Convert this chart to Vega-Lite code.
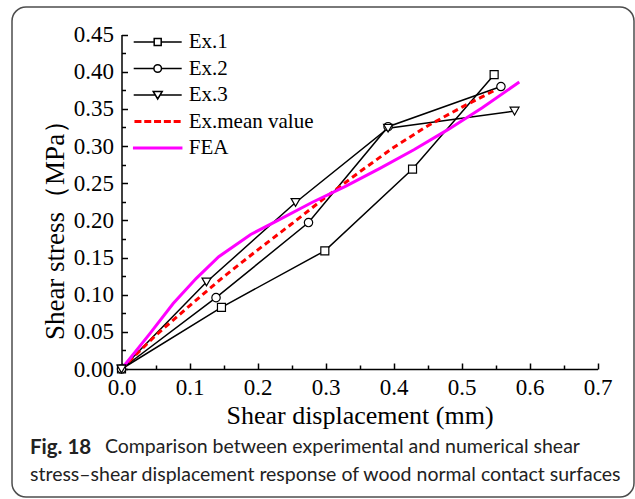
{
  "$schema": "https://vega.github.io/schema/vega-lite/v6.json",
  "width": 622,
  "height": 490,
  "autosize": "none",
  "padding": {"left": 12, "top": 7, "right": 1, "bottom": 2},
  "background": "white",
  "config": {
    "view": {"stroke": "#4d4d4d", "strokeWidth": 1.5, "cornerRadius": 14},
    "axis": {
      "labelFont": "Liberation Serif",
      "titleFont": "Liberation Serif",
      "labelFontSize": 23,
      "titleFontSize": 26,
      "titleFontWeight": "normal",
      "labelColor": "black",
      "titleColor": "black",
      "domainColor": "black",
      "tickColor": "black",
      "domainWidth": 1.5,
      "tickWidth": 1.5,
      "grid": false
    },
    "legend": {
      "labelFont": "Liberation Serif",
      "labelFontSize": 21,
      "labelColor": "black",
      "orient": "none",
      "legendX": 134.7,
      "legendY": 24,
      "padding": 0,
      "symbolSize": 400,
      "symbolStrokeWidth": 1.5,
      "symbolOpacity": 1,
      "labelOffset": 20,
      "rowPadding": 5.5
    }
  },
  "title": {
    "text": "Fig. 18",
    "subtitle": ["\u200b\u00a0\u00a0\u00a0\u00a0\u00a0\u00a0\u00a0\u00a0\u00a0\u00a0\u00a0\u00a0\u00a0\u00a0\u00a0Comparison between experimental and numerical shear", "stress\u2013shear displacement response of wood normal contact surfaces"],
    "orient": "bottom",
    "anchor": "start",
    "frame": "group",
    "offset": -59,
    "dx": 18,
    "font": "Lato",
    "fontSize": 20.5,
    "fontWeight": "bold",
    "color": "#222222",
    "subtitleFont": "Lato",
    "subtitleFontSize": 19.5,
    "subtitleColor": "#222222",
    "subtitleFontWeight": "normal",
    "subtitlePadding": -20.5,
    "subtitleLineHeight": 27.5
  },
  "datasets": {
    "experiments": [
      {"series": "Ex.1", "displacement": 0, "stress": 0},
      {"series": "Ex.1", "displacement": 0.147, "stress": 0.083},
      {"series": "Ex.1", "displacement": 0.299, "stress": 0.159},
      {"series": "Ex.1", "displacement": 0.428, "stress": 0.269},
      {"series": "Ex.1", "displacement": 0.548, "stress": 0.396},
      {"series": "Ex.2", "displacement": 0, "stress": 0},
      {"series": "Ex.2", "displacement": 0.139, "stress": 0.096},
      {"series": "Ex.2", "displacement": 0.275, "stress": 0.197},
      {"series": "Ex.2", "displacement": 0.392, "stress": 0.326},
      {"series": "Ex.2", "displacement": 0.558, "stress": 0.380},
      {"series": "Ex.3", "displacement": 0, "stress": 0},
      {"series": "Ex.3", "displacement": 0.125, "stress": 0.117},
      {"series": "Ex.3", "displacement": 0.256, "stress": 0.224},
      {"series": "Ex.3", "displacement": 0.392, "stress": 0.324},
      {"series": "Ex.3", "displacement": 0.578, "stress": 0.347}
    ],
    "mean": [
      {"displacement": 0, "stress": 0},
      {"displacement": 0.05, "stress": 0.045},
      {"displacement": 0.1, "stress": 0.085},
      {"displacement": 0.15, "stress": 0.124},
      {"displacement": 0.2, "stress": 0.16},
      {"displacement": 0.25, "stress": 0.195},
      {"displacement": 0.3, "stress": 0.231},
      {"displacement": 0.35, "stress": 0.265},
      {"displacement": 0.4, "stress": 0.298},
      {"displacement": 0.45, "stress": 0.327},
      {"displacement": 0.5, "stress": 0.352},
      {"displacement": 0.549, "stress": 0.375}
    ],
    "fea": [
      {"displacement": 0, "stress": 0},
      {"displacement": 0.042, "stress": 0.048},
      {"displacement": 0.076, "stress": 0.088},
      {"displacement": 0.11, "stress": 0.122},
      {"displacement": 0.143, "stress": 0.151},
      {"displacement": 0.19, "stress": 0.181},
      {"displacement": 0.23, "stress": 0.2},
      {"displacement": 0.28, "stress": 0.224},
      {"displacement": 0.33, "stress": 0.246},
      {"displacement": 0.38, "stress": 0.27},
      {"displacement": 0.43, "stress": 0.295},
      {"displacement": 0.48, "stress": 0.322},
      {"displacement": 0.53, "stress": 0.351},
      {"displacement": 0.585, "stress": 0.386}
    ],
    "legendItems": [
      {"item": "Ex.1"},
      {"item": "Ex.2"},
      {"item": "Ex.3"},
      {"item": "Ex.mean value"},
      {"item": "FEA"}
    ]
  },
  "encoding": {
    "x": {
      "field": "displacement",
      "type": "quantitative",
      "scale": {"domain": [0, 0.7], "range": [109.5, 585.5], "nice": false, "zero": false},
      "axis": {
        "title": "Shear displacement (mm)",
        "offset": -128,
        "values": [0, 0.05, 0.1, 0.15, 0.2, 0.25, 0.3, 0.35, 0.4, 0.45, 0.5, 0.55, 0.6, 0.65, 0.7],
        "labelExpr": "round(datum.value * 100) % 10 == 0 ? format(datum.value, '.1f') : ''",
        "tickSize": {"condition": {"test": "round(datum.value * 100) % 10 != 0", "value": -4}, "value": -6},
        "labelPadding": 13,
        "titlePadding": 1,
        "labelFlush": false,
        "labelOverlap": false
      }
    },
    "y": {
      "field": "stress",
      "type": "quantitative",
      "scale": {"domain": [0, 0.45], "range": [362, 27.5], "nice": false, "zero": false},
      "axis": {
        "title": "Shear stress\uff08MPa\uff09",
        "titleY": 216,
        "titleFontSize": 27,
        "offset": -109.5,
        "values": [0, 0.025, 0.05, 0.075, 0.1, 0.125, 0.15, 0.175, 0.2, 0.225, 0.25, 0.275, 0.3, 0.325, 0.35, 0.375, 0.4, 0.425, 0.45],
        "labelExpr": "round(datum.value * 1000) % 50 == 0 ? format(datum.value, '.2f') : ''",
        "tickSize": {"condition": {"test": "round(datum.value * 1000) % 50 != 0", "value": -4}, "value": -6},
        "labelPadding": 14,
        "titlePadding": 4,
        "labelFlush": false,
        "labelOverlap": false
      }
    }
  },
  "layer": [
    {
      "data": {"name": "experiments"},
      "mark": {"type": "line", "color": "black", "strokeWidth": 1.5},
      "encoding": {"detail": {"field": "series", "type": "nominal"}}
    },
    {
      "data": {"name": "mean"},
      "mark": {"type": "line", "color": "#ff0000", "strokeWidth": 3, "strokeDash": [6, 4]}
    },
    {
      "data": {"name": "fea"},
      "mark": {"type": "line", "color": "#ff00ff", "strokeWidth": 3}
    },
    {
      "data": {"name": "experiments"},
      "transform": [{"filter": "datum.series == 'Ex.1'"}],
      "mark": {"type": "point", "shape": "square", "filled": true, "fill": "white", "stroke": "black", "strokeWidth": 1.2, "size": 64, "opacity": 1}
    },
    {
      "data": {"name": "experiments"},
      "transform": [{"filter": "datum.series == 'Ex.2'"}],
      "mark": {"type": "point", "shape": "circle", "filled": true, "fill": "white", "stroke": "black", "strokeWidth": 1.2, "size": 70, "opacity": 1}
    },
    {
      "data": {"name": "experiments"},
      "transform": [{"filter": "datum.series == 'Ex.3'"}],
      "mark": {"type": "point", "shape": "triangle-down", "filled": true, "fill": "white", "stroke": "black", "strokeWidth": 1.2, "size": 80, "opacity": 1}
    },
    {
      "data": {"name": "legendItems"},
      "mark": {"type": "point", "opacity": 0, "strokeWidth": 1.5},
      "encoding": {
        "x": {"datum": 0.3, "type": "quantitative"},
        "y": {"datum": 0.2, "type": "quantitative"},
        "shape": {
          "field": "item",
          "type": "nominal",
          "title": null,
          "scale": {
            "domain": ["Ex.1", "Ex.2", "Ex.3", "Ex.mean value", "FEA"],
            "range": [
              "M-2.4,0H-0.35M0.35,0H2.4M-0.35,-0.35H0.35V0.35H-0.35Z",
              "M-2.4,0H-0.38M0.38,0H2.4M-0.38,0A0.38,0.38 0 1,0 0.38,0A0.38,0.38 0 1,0 -0.38,0Z",
              "M-2.4,0H-0.24M0.24,0H2.4M-0.45,-0.35L0.45,-0.35L0,0.4Z",
              "M-2.25,-0.075H-1.7V0.075H-2.25ZM-1.27,-0.075H-0.72V0.075H-1.27ZM-0.29,-0.075H0.26V0.075H-0.29ZM0.69,-0.075H1.24V0.075H0.69ZM1.67,-0.075H2.22V0.075H1.67Z",
              "M-2.4,-0.075H2.4V0.075H-2.4Z"
            ]
          }
        },
        "fill": {
          "field": "item",
          "type": "nominal",
          "title": null,
          "scale": {"domain": ["Ex.1", "Ex.2", "Ex.3", "Ex.mean value", "FEA"], "range": ["white", "white", "white", "#ff0000", "#ff00ff"]}
        },
        "stroke": {
          "field": "item",
          "type": "nominal",
          "title": null,
          "scale": {"domain": ["Ex.1", "Ex.2", "Ex.3", "Ex.mean value", "FEA"], "range": ["black", "black", "black", "#ff0000", "#ff00ff"]}
        }
      }
    }
  ]
}
